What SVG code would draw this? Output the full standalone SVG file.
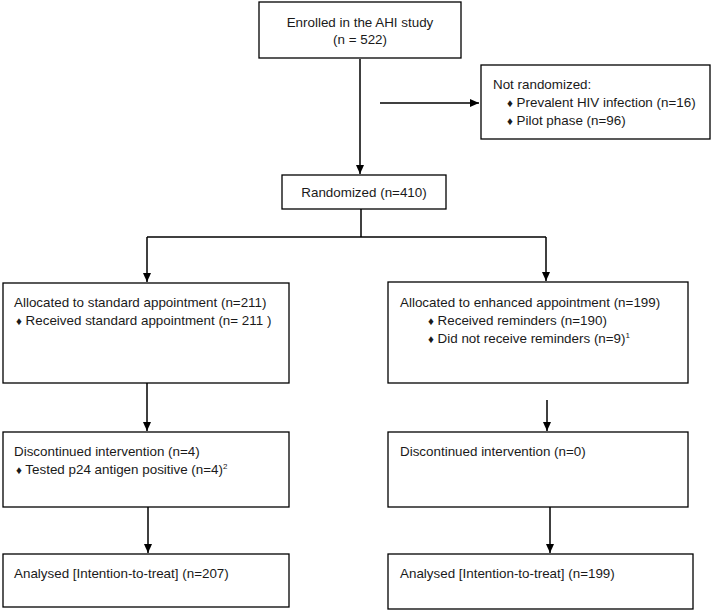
<svg xmlns="http://www.w3.org/2000/svg" width="714" height="612" viewBox="0 0 714 612">
<style>
.box{fill:#fff;stroke:#000;stroke-width:1.3}
.t{font-family:"Liberation Sans",Arial,sans-serif;font-size:13.4px;fill:#1a1a1a}
.c{text-anchor:middle}
.sup{font-size:8px}
.d{font-size:11.5px}
.ln{stroke:#000;stroke-width:1.5;fill:none}
</style>
<defs>
<marker id="ah" markerWidth="10" markerHeight="10" refX="9" refY="5" orient="auto" markerUnits="userSpaceOnUse">
<path d="M0,1 L9,5 L0,9 Z" fill="#000"/>
</marker>
</defs>
<rect width="714" height="612" fill="#fff"/>
<g id="connectors">
<line class="ln" x1="360" y1="59" x2="360" y2="174" marker-end="url(#ah)"/>
<line class="ln" x1="380" y1="103" x2="479" y2="103" marker-end="url(#ah)"/>
<line class="ln" x1="361" y1="209" x2="361" y2="237"/>
<line class="ln" x1="147" y1="237" x2="546" y2="237"/>
<line class="ln" x1="147" y1="237" x2="147" y2="282" marker-end="url(#ah)"/>
<line class="ln" x1="546" y1="237" x2="546" y2="281" marker-end="url(#ah)"/>
<line class="ln" x1="147" y1="383" x2="147" y2="431" marker-end="url(#ah)"/>
<line class="ln" x1="547" y1="400" x2="547" y2="431" marker-end="url(#ah)"/>
<line class="ln" x1="148" y1="507" x2="148" y2="553" marker-end="url(#ah)"/>
<line class="ln" x1="550" y1="507" x2="550" y2="553" marker-end="url(#ah)"/>
</g>
<g id="enrolled">
<rect class="box" x="259" y="2" width="202" height="56"/>
<text class="t c" x="360" y="27">Enrolled in the AHI study</text>
<text class="t c" x="360" y="44">(n = 522)</text>
</g>
<g id="not-randomized">
<rect class="box" x="481" y="65" width="229" height="74"/>
<text class="t" x="493" y="89">Not randomized:</text>
<text class="t" x="507" y="107"><tspan class="d">♦</tspan> Prevalent HIV infection (n=16)</text>
<text class="t" x="507" y="125"><tspan class="d">♦</tspan> Pilot phase (n=96)</text>
</g>
<g id="randomized">
<rect class="box" x="282" y="175" width="164" height="34"/>
<text class="t c" x="364" y="197">Randomized (n=410)</text>
</g>
<g id="allocated-standard">
<rect class="box" x="3" y="283" width="286" height="100"/>
<text class="t" x="14" y="307">Allocated to standard appointment (n=211)</text>
<text class="t" x="16" y="325"><tspan class="d">♦</tspan> Received standard appointment (n= 211 )</text>
</g>
<g id="allocated-enhanced">
<rect class="box" x="388" y="282" width="300" height="101"/>
<text class="t" x="400" y="307">Allocated to enhanced appointment (n=199)</text>
<text class="t" x="428" y="325"><tspan class="d">♦</tspan> Received reminders (n=190)</text>
<text class="t" x="428" y="343"><tspan class="d">♦</tspan> Did not receive reminders  (n=9)<tspan class="sup" dy="-5">1</tspan></text>
</g>
<g id="discontinued-standard">
<rect class="box" x="3" y="432" width="286" height="75"/>
<text class="t" x="14" y="456">Discontinued intervention (n=4)</text>
<text class="t" x="16" y="474"><tspan class="d">♦</tspan> Tested p24 antigen positive (n=4)<tspan class="sup" dy="-5">2</tspan></text>
</g>
<g id="discontinued-enhanced">
<rect class="box" x="388" y="432" width="300" height="75"/>
<text class="t" x="400" y="456">Discontinued intervention (n=0)</text>
</g>
<g id="analysed-standard">
<rect class="box" x="3" y="554" width="286" height="53"/>
<text class="t" x="14" y="578">Analysed [Intention-to-treat] (n=207)</text>
</g>
<g id="analysed-enhanced">
<rect class="box" x="388" y="554" width="305" height="55"/>
<text class="t" x="400" y="578">Analysed [Intention-to-treat] (n=199)</text>
</g>
</svg>
